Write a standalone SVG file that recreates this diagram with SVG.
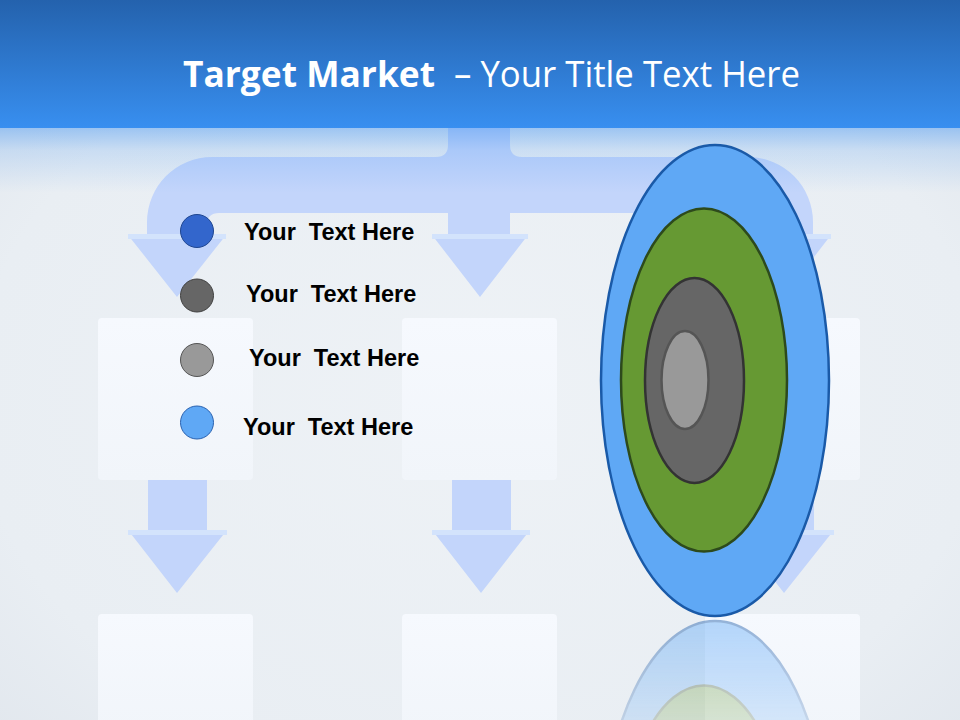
<svg xmlns="http://www.w3.org/2000/svg" width="960" height="720" viewBox="0 0 960 720">
<defs>
<style>
.title{font-family:"Open Sans","Noto Sans","Liberation Sans",sans-serif;fill:#ffffff;font-size:36px}
.leg{font-family:"Liberation Sans",Arial,sans-serif;font-weight:bold;font-size:23.5px;fill:#000000}
.arr{fill:#c3d5fb}
.band{fill:#d3e3fc}
.box{fill:url(#boxg)}
.dot{stroke-width:1}
</style>
<linearGradient id="hdr" x1="0" y1="0" x2="0" y2="1">
<stop offset="0" stop-color="#2462ad"/>
<stop offset="1" stop-color="#388ff0"/>
</linearGradient>
<linearGradient id="fade" x1="0" y1="0" x2="0" y2="1">
<stop offset="0" stop-color="#3a8ff0" stop-opacity="0.45"/>
<stop offset="0.35" stop-color="#3a8ff0" stop-opacity="0.18"/>
<stop offset="1" stop-color="#3a8ff0" stop-opacity="0"/>
</linearGradient>
<radialGradient id="bg" cx="0.5" cy="0.55" r="0.75">
<stop offset="0" stop-color="#eef2f6"/>
<stop offset="0.7" stop-color="#e9eef3"/>
<stop offset="1" stop-color="#dfe5ec"/>
</radialGradient>
<linearGradient id="boxg" x1="0" y1="0" x2="0" y2="1">
<stop offset="0" stop-color="#f6f9fe"/>
<stop offset="1" stop-color="#f1f5fa"/>
</linearGradient>
<linearGradient id="reflg" x1="0" y1="0" x2="0" y2="1">
<stop offset="0" stop-color="#ffffff" stop-opacity="1"/>
<stop offset="1" stop-color="#ffffff" stop-opacity="0.45"/>
</linearGradient>
<mask id="reflmask" maskUnits="userSpaceOnUse" x="0" y="600" width="960" height="120">
<rect x="0" y="617" width="960" height="103" fill="url(#reflg)"/>
</mask>
</defs>

<rect id="background" x="0" y="0" width="960" height="720" fill="url(#bg)"/>

<g id="boxes">
<rect class="box" x="98" y="318" width="155" height="162" rx="4"/>
<rect class="box" x="402" y="318" width="155" height="162" rx="4"/>
<rect class="box" x="705" y="318" width="155" height="162" rx="4"/>
<rect class="box" x="98" y="614" width="155" height="120" rx="4"/>
<rect class="box" x="402" y="614" width="155" height="120" rx="4"/>
<rect class="box" x="705" y="614" width="155" height="120" rx="4"/>
</g>

<g id="connectors">
<path class="arr" d="M448,90 L448,145 Q448,157 436,157 L212,157 A65,65 0 0 0 147,222 L147,235 L128,235 L177,297 L226,235 L207,235 L207,225 Q207,213 219,213 L448,213 L448,235 L432,235 L480,297 L528,235 L510,235 L510,213 L741,213 Q753,213 753,225 L753,235 L735,235 L783,297 L831,235 L813,235 L813,222 A65,65 0 0 0 748,157 L522,157 Q510,157 510,145 L510,90 Z"/>
<rect class="band" x="128" y="234" width="98" height="5"/>
<rect class="band" x="432" y="234" width="96" height="5"/>
<rect class="band" x="735" y="234" width="96" height="5"/>
<path class="arr" d="M148,480 L207,480 L207,530 L227,530 L177,593 L128,530 L148,530 Z"/>
<path class="arr" d="M452,480 L511,480 L511,530 L530,530 L481,593 L432,530 L452,530 Z"/>
<path class="arr" d="M755,480 L814,480 L814,530 L834,530 L784,593 L735,530 L755,530 Z"/>
<rect class="band" x="128" y="530" width="99" height="5"/>
<rect class="band" x="432" y="530" width="98" height="5"/>
<rect class="band" x="735" y="530" width="99" height="5"/>
</g>

<g id="header">
<rect x="0" y="0" width="960" height="128" fill="url(#hdr)"/>
<rect x="0" y="127" width="960" height="66" fill="url(#fade)"/>
<text class="title" x="183" y="87" font-weight="bold" textLength="252" lengthAdjust="spacingAndGlyphs">Target Market</text>
<text class="title" x="454" y="87" textLength="346" lengthAdjust="spacingAndGlyphs">– Your Title Text Here</text>
</g>

<g id="legend">
<g id="item1">
<circle class="dot" cx="197" cy="231" r="16.5" fill="#3366cc" stroke="#1f4690"/>
<text class="leg" x="244" y="240" xml:space="preserve">Your  Text Here</text>
</g>
<g id="item2">
<circle class="dot" cx="197" cy="295.5" r="16.5" fill="#666666" stroke="#404040"/>
<text class="leg" x="246" y="302" xml:space="preserve">Your  Text Here</text>
</g>
<g id="item3">
<circle class="dot" cx="197" cy="360" r="16.5" fill="#999999" stroke="#555555"/>
<text class="leg" x="249" y="366" xml:space="preserve">Your  Text Here</text>
</g>
<g id="item4">
<circle class="dot" cx="197" cy="422.5" r="16.5" fill="#5fa8f5" stroke="#2a62b0"/>
<text class="leg" x="243" y="435" xml:space="preserve">Your  Text Here</text>
</g>
</g>

<g id="target">
<ellipse cx="715" cy="380.5" rx="114" ry="235.5" fill="#5fa8f5" stroke="#1a5aa8" stroke-width="2.5"/>
<ellipse cx="704" cy="380" rx="83" ry="171.5" fill="#669933" stroke="#2d4a1c" stroke-width="2.5"/>
<ellipse cx="694.5" cy="380.5" rx="49.5" ry="102.5" fill="#666666" stroke="#333333" stroke-width="2.5"/>
<ellipse cx="685" cy="380" rx="23.5" ry="49" fill="#999999" stroke="#555555" stroke-width="2.5"/>
</g>

<g id="target-reflection" mask="url(#reflmask)">
<g opacity="0.45" transform="translate(0,1237) scale(1,-1)">
<ellipse cx="715" cy="380.5" rx="114" ry="235.5" fill="#5fa8f5" stroke="#1a5aa8" stroke-width="2.5"/>
<ellipse cx="704" cy="380" rx="83" ry="171.5" fill="#669933" stroke="#2d4a1c" stroke-width="2.5"/>
</g>
</g>
</svg>
